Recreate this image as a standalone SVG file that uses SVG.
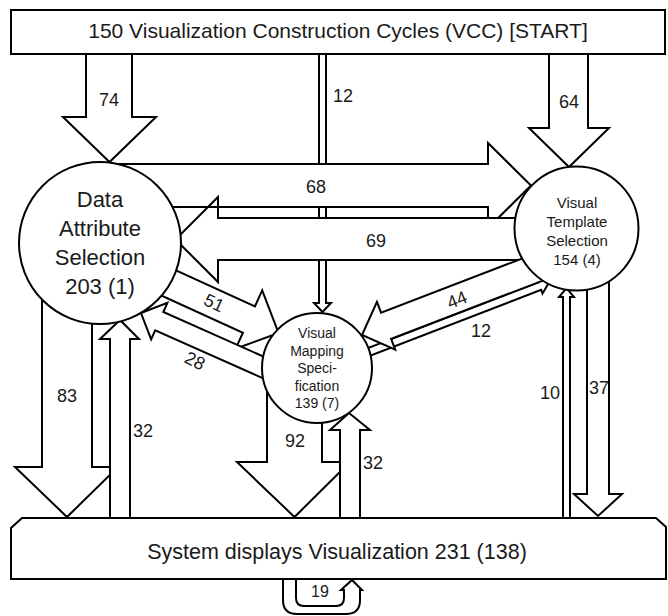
<svg xmlns="http://www.w3.org/2000/svg" width="668" height="616" viewBox="0 0 668 616">
<style>
.a{fill:#fff;stroke:#000;stroke-width:2;stroke-linejoin:miter}
.n{fill:#fff;stroke:#000;stroke-width:2}
.s{fill:none;stroke:#000;stroke-width:2}
.t{font-family:"Liberation Sans",Arial,sans-serif;fill:#1a1a1a;text-anchor:middle}
.l{font-size:18px}
</style>
<rect width="668" height="616" fill="#fff"/>
<g id="connectors">
  <g id="e-start-vms"><polygon class="a" points="319,50 326,50 326,303 331,303 322.5,312 314,303 319,303"/><text class="t l" x="343" y="101.5">12</text></g>
  <g id="e-das-vts"><polygon class="a" points="100,164 488,164 488,143 531,185.5 488,228 488,207 100,207"/></g>
  <g id="e-vts-das"><polygon class="a" points="560,218 218,218 218,197 175.5,239.5 218,282 218,260 560,260"/></g>
  <line class="s" x1="160" y1="207" x2="219" y2="207"/>
  <text class="t l" x="316" y="192.5">68</text>
  <text class="t l" x="376" y="246.5">69</text>
  <g id="e-start-das"><polygon class="a" points="86,50 132,50 132,117 156,117 109.5,162 63,117 86,117"/><text class="t l" x="109" y="105.5">74</text></g>
  <g id="e-start-vts"><polygon class="a" points="549,50 588,50 588,128 609,128 569,167 529,128 549,128"/><text class="t l" x="569" y="107.5">64</text></g>
  <g id="e-das-vms"><polygon class="a" transform="translate(278.5,333) rotate(24.5)" points="0,0 -32.5,32 -32.5,14.5 -150,14.5 -150,-14.5 -32.5,-14.5 -32.5,-32"/><text class="t l" transform="translate(214,303) rotate(25)" y="6">51</text></g>
  <g id="e-vms-das"><polygon class="a" transform="translate(141,313) rotate(204)" points="0,0 -20,20 -20,10 -150,10 -150,-10 -20,-10 -20,-20"/><text class="t l" transform="translate(195,361) rotate(27)" y="6">28</text></g>
  <g id="e-vms-vts"><polygon class="a" transform="translate(549,282.5) rotate(-21.1)" points="0,0 -10,8 -10,4 -205,4 -205,-4 -10,-4 -10,-8"/><text class="t l" x="481" y="336.5">12</text></g>
  <g id="e-vts-vms"><polygon class="a" transform="translate(362,335) rotate(159)" points="0,0 -25.8,25.5 -25.8,14 -230,14 -230,-14 -25.8,-14 -25.8,-25.5"/><text class="t l" transform="translate(457,300) rotate(-22)" y="6">44</text></g>
  <g id="e-das-disp"><polygon class="a" points="42,290 92,290 92,467 118,467 67,517 15,467 42,467"/><text class="t l" x="67" y="401.5">83</text></g>
  <g id="e-disp-das"><polygon class="a" points="110,522 110,339 100,339 120,320 139,339 130,339 130,522"/><text class="t l" x="143" y="436.5">32</text></g>
  <g id="e-vms-disp"><polygon class="a" points="267,385 322,385 322,462 350,462 294.5,517 237,462 267,462"/><text class="t l" x="295" y="446.5">92</text></g>
  <g id="e-disp-vms"><polygon class="a" points="340,522 340,430 330,430 349,413 370,430 360,430 360,522"/><text class="t l" x="373" y="468.5">32</text></g>
  <g id="e-disp-vts"><polygon class="a" points="563,522 563,297 559,297 566.5,288 574,297 570,297 570,522"/><text class="t l" x="550" y="398.5">10</text></g>
  <g id="e-vts-disp"><polygon class="a" points="587,280 609,280 609,494 622,494 598,516 574,494 587,494"/><text class="t l" x="599" y="393.5">37</text></g>
  <g id="e-disp-disp"><path class="a" d="M283,575 V600 Q283,614 297,614 H346 Q360,614 360,600 V590 H362 L352,580 L341,590 H344 V598 Q344,606 336,606 H304 Q296,606 296,598 V575 Z"/><text class="t" style="font-size:16px" x="320" y="597">19</text></g>
</g>
<g id="n-start">
  <rect class="n" x="11" y="10" width="654" height="44"/>
  <text class="t" style="font-size:21px" x="338" y="37.5">150 Visualization Construction Cycles (VCC) [START]</text>
</g>
<g id="n-das">
  <circle class="n" cx="100" cy="243" r="81"/>
  <text class="t" style="font-size:22px" x="100"><tspan x="100" y="207">Data</tspan><tspan x="100" y="236">Attribute</tspan><tspan x="100" y="265">Selection</tspan><tspan x="100" y="294">203 (1)</tspan></text>
</g>
<g id="n-vts">
  <circle class="n" cx="576.5" cy="228.5" r="62"/>
  <text class="t" style="font-size:15px"><tspan x="577" y="207.5">Visual</tspan><tspan x="577" y="226.5">Template</tspan><tspan x="577" y="245.5">Selection</tspan><tspan x="577" y="265">154 (4)</tspan></text>
</g>
<g id="n-vms">
  <circle class="n" cx="317" cy="368" r="55"/>
  <text class="t" style="font-size:14px"><tspan x="317" y="338">Visual</tspan><tspan x="317" y="356">Mapping</tspan><tspan x="317" y="373">Speci-</tspan><tspan x="317" y="391">fication</tspan><tspan x="317" y="408">139 (7)</tspan></text>
</g>
<g id="n-disp">
  <path class="n" d="M22,518 H656 L666,527 V579 H11 V528 Z"/>
  <text class="t" style="font-size:21.5px" x="337" y="559">System displays Visualization 231 (138)</text>
</g>
</svg>
